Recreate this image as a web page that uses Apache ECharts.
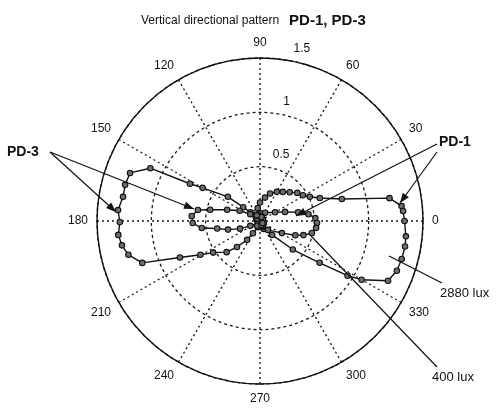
<!DOCTYPE html>
<html>
<head>
<meta charset="utf-8">
<script src="https://cdn.jsdelivr.net/npm/echarts@6/dist/echarts.min.js"></script>
<style>
html,body{margin:0;padding:0;background:#fff;}
#c{width:498px;height:410px;}
</style>
</head>
<body>
<div id="c"></div>
<script>
// ---- data (radius, angle in degrees, 0 = right, counter-clockwise) ----
const angleTicks = [0, 30, 60, 90, 120, 150, 180, 210, 240, 270, 300, 330];
const radiusTicks = [0.5, 1, 1.5];

const pd1HighAngle = [160, 140, 120, 100, 90, 78, 70, 60, 52, 44, 37, 31, 26, 21, 15, 10, 6, 4, 0, 354, 350, 345, 340, 335, 330, 328, 325, 319, 311, 295, 275, 250, 225];
const pd1HighR     = [0.03, 0.05, 0.06, 0.12, 0.17, 0.22, 0.27, 0.31, 0.34, 0.38, 0.43, 0.46, 0.51, 0.59, 0.78, 1.21, 1.31, 1.32, 1.33, 1.35, 1.355, 1.35, 1.34, 1.30, 1.08, 0.95, 0.67, 0.40, 0.17, 0.08, 0.05, 0.04, 0.03];

const pd1LowAngle = [140, 110, 85, 58, 30, 20, 13, 8, 3, 358, 353, 347, 342, 338, 331, 312, 290, 265, 235];
const pd1LowR     = [0.03, 0.05, 0.07, 0.09, 0.16, 0.245, 0.36, 0.45, 0.51, 0.525, 0.52, 0.49, 0.42, 0.35, 0.23, 0.11, 0.06, 0.04, 0.03];

const pd3HighAngle = [20, 60, 100, 125, 138, 140.5, 143, 150, 152, 154.3, 159.7, 165, 170, 175.6, 180.4, 185.6, 190, 194.4, 199.6, 204.5, 209.5, 214, 223, 228.5, 235.6, 240, 250, 270, 300, 330];
const pd3HighR     = [0.03, 0.04, 0.05, 0.07, 0.12, 0.20, 0.37, 0.61, 0.73, 1.12, 1.275, 1.285, 1.28, 1.31, 1.29, 1.31, 1.29, 1.25, 1.15, 0.81, 0.63, 0.52, 0.42, 0.32, 0.21, 0.13, 0.06, 0.04, 0.05, 0.04];

const pd3LowAngle = [30, 70, 120, 145, 153.4, 161, 167.3, 170, 175.8, 181.7, 186.9, 190, 195, 201, 206.6, 240, 290, 320];
const pd3LowR     = [0.03, 0.04, 0.06, 0.11, 0.21, 0.32, 0.47, 0.58, 0.63, 0.62, 0.54, 0.40, 0.305, 0.197, 0.10, 0.05, 0.04, 0.03];

const seriesNames = ['PD-1 2880 lux', 'PD-1 400 lux', 'PD-3 2880 lux', 'PD-3 400 lux'];

function zip(rs, as) { return rs.map((r, i) => [r, as[i]]); }

const FONT = 'Liberation Sans, Arial, Helvetica, sans-serif';
const chart = echarts.init(document.getElementById('c'), null, {renderer: 'canvas'});

function mkSeries(name, rs, as) {
  return {
    name: name, type: 'line', coordinateSystem: 'polar',
    data: zip(rs, as),
    symbol: 'circle', symbolSize: 5.5, showSymbol: true,
    lineStyle: {color: '#111', width: 1.4},
    itemStyle: {color: '#6e6e6e', borderColor: '#111', borderWidth: 1.1},
    z: 5, animation: false, silent: true
  };
}

// annotation helpers (pixel layout of callouts)
function arrow(x1, y1, x2, y2, head) {
  const els = [{type: 'line', shape: {x1, y1, x2, y2}, style: {stroke: '#111', lineWidth: 1.2}, z: 20}];
  if (head) {
    const ang = Math.atan2(y2 - y1, x2 - x1), L = 10, W = 3.8;
    const bx = x2 - L * Math.cos(ang), by = y2 - L * Math.sin(ang);
    const px = -Math.sin(ang) * W, py = Math.cos(ang) * W;
    els.push({type: 'polygon', shape: {points: [[x2, y2], [bx + px, by + py], [bx - px, by - py]]}, style: {fill: '#111'}, z: 21});
  }
  return els;
}
function label(text, x, y, size, bold) {
  return {type: 'text', x: x, y: y, style: {text: text, fill: '#111', font: (bold ? 'bold ' : '') + size + 'px ' + FONT, textVerticalAlign: 'middle', textAlign: 'left'}, z: 22};
}

const graphics = [].concat(
  arrow(437, 144, 296, 216, true),
  arrow(437, 152, 400, 203, true),
  arrow(50, 152, 116, 212, true),
  arrow(50, 152, 194, 209, true),
  arrow(442, 283, 389, 256, false),
  arrow(437, 367, 311, 236, false),
  [label('PD-1', 439, 142, 14, true),
   label('PD-3', 7, 152, 14, true),
   label('2880 lux', 440, 293, 13, false),
   label('400 lux', 432, 377, 13, false)]
);

chart.setOption({
  backgroundColor: '#fff',
  animation: false,
  title: {
    text: '{a|Vertical directional pattern}  {b|PD-1, PD-3}',
    left: 136, top: 7,
    textStyle: {
      rich: {
        a: {fontSize: 12, fontFamily: FONT, color: '#111', fontWeight: 'normal'},
        b: {fontSize: 15, fontFamily: FONT, color: '#111', fontWeight: 'bold'}
      }
    }
  },
  polar: {center: [260, 221], radius: 163},
  angleAxis: {
    type: 'value', min: 0, max: 360, interval: 30,
    startAngle: 0, clockwise: false,
    axisLine: {show: true, lineStyle: {color: '#111', width: 1.4}},
    axisTick: {show: false},
    axisLabel: {
      margin: 9, color: '#111', fontSize: 12, fontFamily: FONT,
      formatter: function (v) { return angleTicks.indexOf(v) >= 0 ? String(v) : ''; }
    },
    splitLine: {show: true, lineStyle: {color: '#1a1a1a', width: 1.4, type: [2, 3]}}
  },
  radiusAxis: {
    type: 'value', min: 0, max: 1.5, interval: 0.5,
    axisLine: {show: false}, axisTick: {show: false}, axisLabel: {show: false},
    splitLine: {show: true, lineStyle: {color: '#1a1a1a', width: 1.3, type: [3, 3]}}
  },
  series: [
    mkSeries(seriesNames[0], pd1HighR, pd1HighAngle),
    mkSeries(seriesNames[1], pd1LowR, pd1LowAngle),
    mkSeries(seriesNames[2], pd3HighR, pd3HighAngle),
    mkSeries(seriesNames[3], pd3LowR, pd3LowAngle)
  ],
  graphic: graphics
});

// radius tick labels placed through the polar coordinate system
const rLabels = radiusTicks.map(function (t) {
  const p = chart.convertToPixel({polarIndex: 0}, [t + 0.12, 79]);
  return {type: 'text', x: p[0], y: p[1], style: {text: String(t), fill: '#111', font: '12px ' + FONT, textAlign: 'left', textVerticalAlign: 'middle'}, z: 22};
});
chart.setOption({graphic: graphics.concat(rLabels)});
</script>
</body>
</html>
